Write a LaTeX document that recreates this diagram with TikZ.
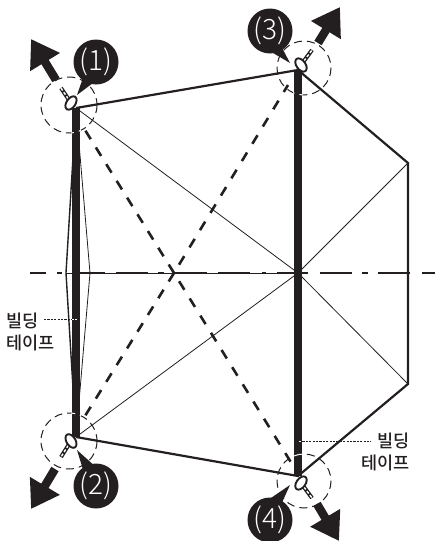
\documentclass[tikz,border=0pt]{standalone}
\usepackage{fontspec}
\setmainfont{Noto Sans CJK KR Medium}
\newfontfamily\numfont{Noto Sans CJK KR Light}
\usepackage{tikz}
\usetikzlibrary{arrows.meta, calc}
\definecolor{inkblack}{RGB}{35, 31, 32}
\tikzset{
  outline/.style={inkblack, line width=2.2pt, line join=miter},
  hairline/.style={inkblack, line width=0.8pt},
  foldline/.style={inkblack, line width=2.6pt, dash pattern=on 10pt off 9.7pt},
  foldlate/.style={inkblack, line width=2.6pt, dash pattern=on 10pt off 10.2pt, dash phase=10.5pt},
  tape/.style={inkblack, line width=8.5pt},
  pullarrow/.style={inkblack, line width=8.5pt, -{Triangle[length=27pt, width=33pt]}},
  zoomring/.style={line width=1pt, dash pattern=on 8pt off 5pt},
  bubble/.style={circle, fill=inkblack, text=white, minimum size=45pt, inner sep=0pt, font=\numfont\fontsize{28}{28}\selectfont},
  tapelabel/.style={inkblack, font=\fontsize{17.5}{22}\selectfont, inner sep=0pt},
  leader/.style={line width=0.9pt, dash pattern=on 2.2pt off 1.2pt}
}
\begin{document}
\begin{tikzpicture}[x=1pt, y=-1pt]
  \useasboundingbox (0,0) rectangle (435,541);

  % Corner points of the panel
  \coordinate (p1) at (76,108);
  \coordinate (p2) at (76,437);
  \coordinate (p3) at (298,70);
  \coordinate (p4) at (298,476);
  \coordinate (rt) at (408,163);
  \coordinate (rb) at (408,384);
  \coordinate (hub) at (298,273);
  \coordinate (lensl) at (66,273);
  \coordinate (lensr) at (90,273);
  \coordinate (cross) at (174,273);
  \coordinate (fold1) at (85,130);
  \coordinate (fold2) at (85,416);
  \coordinate (fold3) at (288,85);
  \coordinate (fold4) at (292,464);

  % Thin creases
  \draw[hairline] (p1) -- (hub) -- (rb);
  \draw[hairline] (p2) -- (hub) -- (rt);
  \draw[hairline] (p1) -- (lensr) -- (p2);
  \draw[hairline, line width=1.4pt] (p1) -- (lensl) -- (p2);

  % Dashed folds, each running out from the crossing
  \draw[foldline] (cross) -- (fold1);
  \draw[foldline] (cross) -- (fold2);
  \draw[foldlate] (cross) -- (fold3);
  \draw[foldlate] (cross) -- (fold4);

  % Centre line
  \draw[hairline, line width=0.6pt] (lensl) -- (hub);
  \foreach \xa/\xb in {30/46, 57/62, 80/105, 116/148, 158/164, 173/207, 218/250, 262/266, 277/308, 320/352, 362/368, 378/410, 422/435}
    \draw[inkblack, line width=2.4pt] (\xa,273) -- (\xb,273);

  % Outer edge
  \draw[outline] (p1) -- (p3) -- (rt) -- (rb) -- (p4) -- (p2);

  % Building tape
  \draw[tape] (p1) -- (p2);
  \draw[tape] (p3) -- (p4);

  % Pull arrows
  \draw[pullarrow] (56,80) -- (31,39);
  \draw[pullarrow] (55,469) -- (31,509);
  \draw[pullarrow] (318,43) -- (340,7);
  \draw[pullarrow] (317,504) -- (339,541);

  % Clamps
  \foreach \cx/\cy/\sx/\sy/\ang in {71/103/61/88/56, 71/441/61/457/-58, 301/65/312/50/-54, 301/483/312/498/54} {
    \draw[inkblack, line width=4pt] (\cx,\cy) -- (\sx,\sy);
    \draw[white, line width=1.4pt, dash pattern=on 3pt off 2pt] (\cx,\cy) -- (\sx,\sy);
    \draw[inkblack, fill=white, line width=1.9pt, rotate around={\ang:(\cx,\cy)}] (\cx,\cy) ellipse (7.5 and 4.5);
  }

  % Detail rings
  \draw[zoomring, inkblack] (69,105) circle (28);
  \draw[zoomring, inkblack] (69,441) circle (28);
  \draw[zoomring, inkblack] (304,68) circle (27);
  \draw[zoomring, inkblack] (304,481) circle (27);
  \begin{scope}
    \clip (71,100) rectangle (81,445);
    \draw[zoomring, white] (69,105) circle (28);
    \draw[zoomring, white] (69,441) circle (28);
  \end{scope}
  \begin{scope}
    \clip (293,60) rectangle (303,490);
    \draw[zoomring, white] (304,68) circle (27);
    \draw[zoomring, white] (304,481) circle (27);
  \end{scope}

  % Number bubbles
  \fill[inkblack] (85,72) -- (77,95) -- (97,80) -- cycle;
  \fill[inkblack] (85,476) -- (77,450) -- (97,468) -- cycle;
  \fill[inkblack] (279,42) -- (290,63) -- (268,50) -- cycle;
  \fill[inkblack] (279,509) -- (290,485) -- (268,500) -- cycle;
  \node[bubble] (no1) at (96,62) {(1)};
  \node[bubble] (no2) at (96,486) {(2)};
  \node[bubble] (no3) at (270,31) {(3)};
  \node[bubble] (no4) at (270,520) {(4)};

  % Tape labels
  \node[tapelabel, anchor=west, align=left] (tapel) at (6,332) {빌딩\\테이프};
  \node[tapelabel, anchor=east, align=right] (taper) at (410,452) {빌딩\\테이프};
  \coordinate (leadl) at (77,319);
  \coordinate (leadr) at (299,441);
  \draw[leader, inkblack] (44,319) -- (leadl);
  \draw[leader, inkblack] (leadr) -- (371,441);
  \draw[leader, white] (72,319) -- (leadl);
  \draw[leader, white] (leadr) -- (302,441);
\end{tikzpicture}
\end{document}
